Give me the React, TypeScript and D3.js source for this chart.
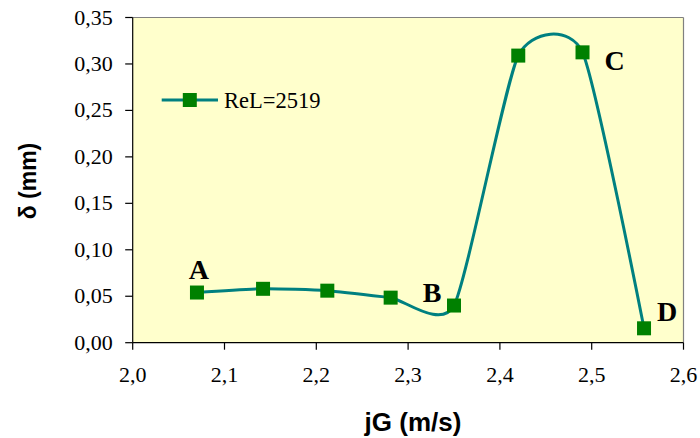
import React from "react";
import * as d3 from "d3";

const jG: number[] = [2.07, 2.142, 2.212, 2.281, 2.35, 2.42, 2.49, 2.557];
const delta: number[] = [0.054, 0.058, 0.056, 0.0485, 0.04, 0.309, 0.3125, 0.0155];
const seriesName = "ReL=2519";
const xTicks: number[] = [2.0, 2.1, 2.2, 2.3, 2.4, 2.5, 2.6];
const yTicks: number[] = [0, 0.05, 0.1, 0.15, 0.2, 0.25, 0.3, 0.35];
const pointLabels: string[] = ["A", "B", "C", "D"];
const labelAt: number[] = [0, 4, 6, 7];

const W = 700;
const H = 438;
const left = 132.7;
const right = 683.5;
const top = 17.5;
const bottom = 342.7;

export default function App() {
  const x = d3.scaleLinear().domain([2.0, 2.6]).range([left, right]);
  const y = d3.scaleLinear().domain([0, 0.35]).range([bottom, top]);
  const pts: [number, number][] = jG.map((v, i) => [x(v), y(delta[i])]);
  const line = d3.line().curve(d3.curveCardinal.tension(0.4))(pts) as string;
  const fmt = (v: number, d: number) => v.toFixed(d).replace(".", ",");
  const ms = 14;
  const labelOffsets: [number, number][] = [
    [2, -14],
    [-22, -4],
    [32, 18],
    [23, -7],
  ];
  const serif = "'Liberation Serif', 'Times New Roman', serif";
  const sans = "'Liberation Sans', Arial, sans-serif";
  return (
    <svg
      width={W}
      height={H}
      style={{ position: "absolute", left: 0, top: 0, display: "block", background: "#fff" }}
    >
      <rect x={left} y={top} width={right - left} height={bottom - top} fill="#FFFFCC" />
      <line x1={left} x2={right} y1={top} y2={top} stroke="#808080" strokeWidth={1.2} />
      <line x1={right} x2={right} y1={top} y2={bottom} stroke="#808080" strokeWidth={1.2} />
      <line x1={left} x2={left} y1={top} y2={bottom} stroke="#000" strokeWidth={1.2} />
      <line x1={left} x2={right} y1={bottom} y2={bottom} stroke="#000" strokeWidth={1.2} />
      {yTicks.map((t) => (
        <g key={"y" + t}>
          <line x1={left - 7.5} x2={left} y1={y(t)} y2={y(t)} stroke="#000" strokeWidth={1.2} />
          <text x={left - 20} y={y(t) + 7} textAnchor="end" fontFamily={serif} fontSize={22}>
            {fmt(t, 2)}
          </text>
        </g>
      ))}
      {xTicks.map((t) => (
        <g key={"x" + t}>
          <line x1={x(t)} x2={x(t)} y1={bottom} y2={bottom + 7} stroke="#000" strokeWidth={1.2} />
          <text x={x(t)} y={bottom + 39} textAnchor="middle" fontFamily={serif} fontSize={22}>
            {fmt(t, 1)}
          </text>
        </g>
      ))}
      <path d={line} fill="none" stroke="#008080" strokeWidth={3} />
      {pts.map((p, i) => (
        <rect key={"m" + i} x={p[0] - ms / 2} y={p[1] - ms / 2} width={ms} height={ms} fill="#008000" />
      ))}
      {pointLabels.map((s, k) => {
        const i = labelAt[k];
        return (
          <text
            key={s}
            x={pts[i][0] + labelOffsets[k][0]}
            y={pts[i][1] + labelOffsets[k][1]}
            textAnchor="middle"
            fontFamily={serif}
            fontWeight="bold"
            fontSize={28}
          >
            {s}
          </text>
        );
      })}
      <line x1={161.7} x2={218} y1={100} y2={100} stroke="#008080" strokeWidth={3} />
      <rect x={189.8 - ms / 2} y={100 - ms / 2} width={ms} height={ms} fill="#008000" />
      <text x={224} y={107.5} fontFamily={serif} fontSize={22.5}>
        {seriesName}
      </text>
      <text x={413} y={431} textAnchor="middle" fontFamily={sans} fontWeight="bold" fontSize={26}>
        jG (m/s)
      </text>
      <text
        transform="translate(36,181) rotate(-90)"
        textAnchor="middle"
        fontFamily={sans}
        fontWeight="bold"
        fontSize={23}
      >
        δ (mm)
      </text>
    </svg>
  );
}
